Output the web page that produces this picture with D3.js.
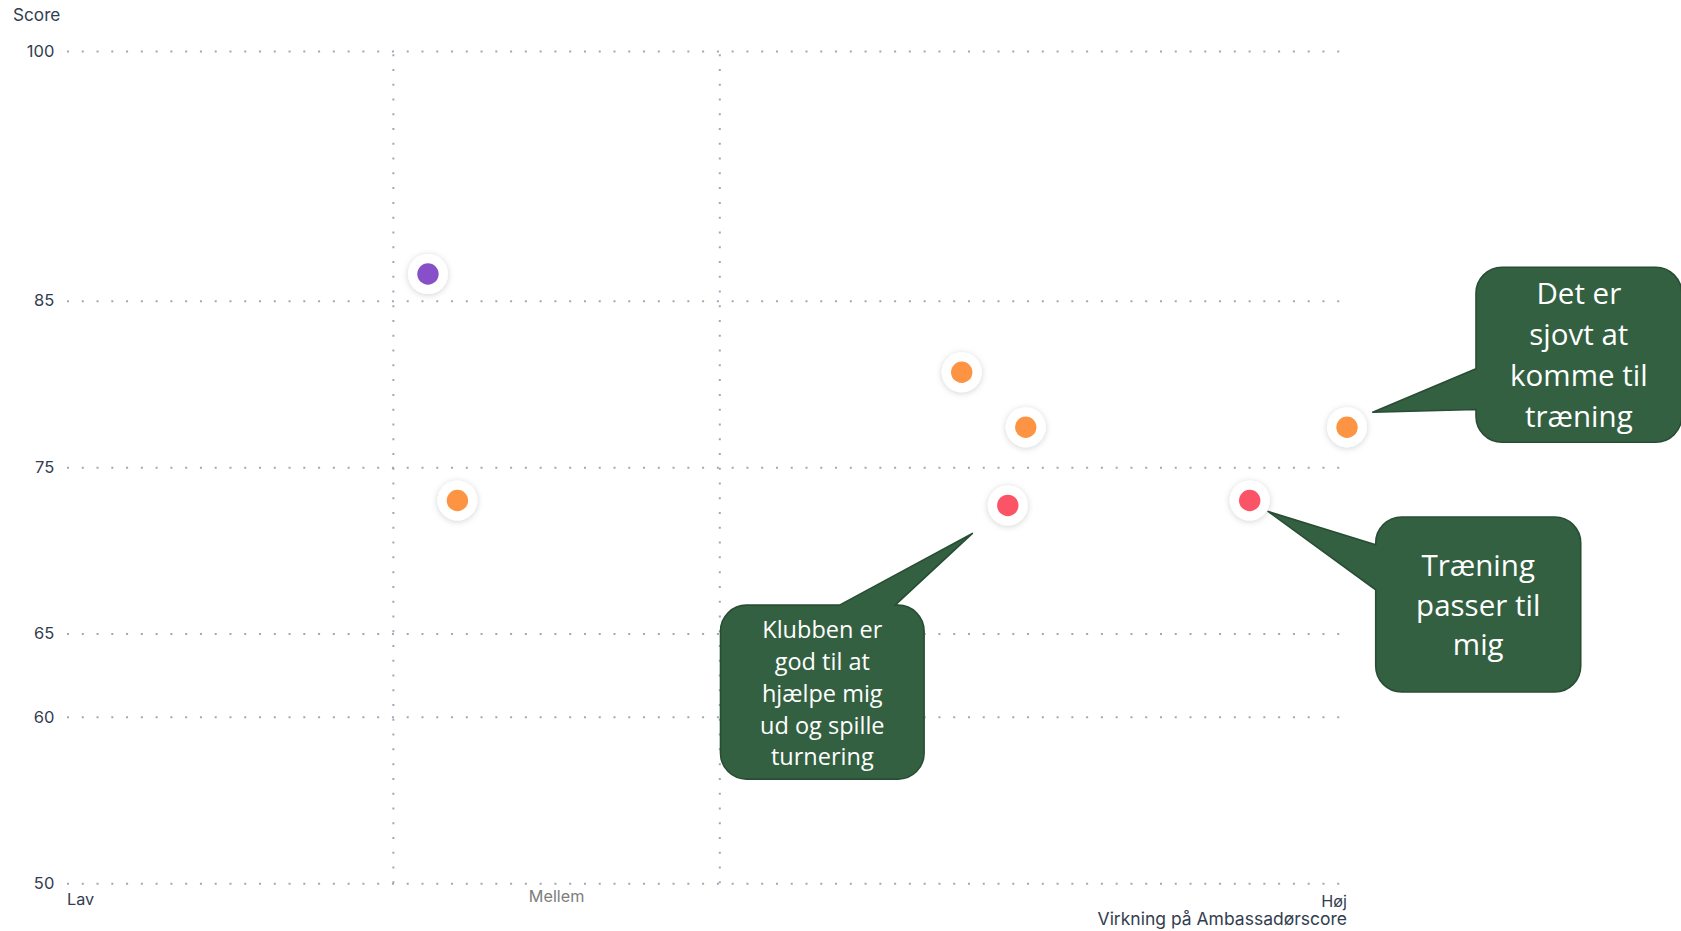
<!DOCTYPE html>
<html><head><meta charset="utf-8">
<script src="https://cdn.jsdelivr.net/npm/d3@7"></script>
<style>
html,body{margin:0;padding:0;background:#fff;overflow:hidden}
svg{display:block}
</style></head><body>
<svg id="chart" width="1681" height="931"></svg>
<script>
// ---------- data ----------
const yTicks = [100, 85, 75, 65, 60, 50];
const xLevelLabels = ["Lav", "Mellem", "Høj"];
const xDividers = [0.255, 0.51];           // impact thresholds (0 = lav, 1 = høj)
const yAxisTitle = "Score";
const xAxisTitle = "Virkning på Ambassadørscore";

const pointX     = [0.282, 0.305, 0.699, 0.749, 0.735, 0.924, 1.0];
const pointY     = [86.6, 73.0, 80.7, 77.4, 72.7, 73.0, 77.4];
const pointGroup = ["lilla", "orange", "orange", "orange", "rød", "rød", "orange"];

const groupNames  = ["lilla", "orange", "rød"];
const groupColors = ["#8750c9", "#fd9444", "#fb5467"];

const calloutTexts = [
  ["Klubben er", "god til at", "hjælpe mig", "ud og spille", "turnering"],
  ["Det er", "sjovt at", "komme til", "træning"],
  ["Træning", "passer til", "mig"]
];
const calloutTargets = [4, 6, 5];

// ---------- layout ----------
const W = 1681, H = 931;
const x = d3.scaleLinear().domain([0, 1]).range([67, 1347]);
const y = d3.scaleLinear().domain([50, 100]).range([883.3, 51]);
const color = d3.scaleOrdinal().domain(groupNames).range(groupColors);

// callout geometry relative to the target point (pixels)
const calloutLayout = [
  {tip:[-35.4, 28], box:[-287.3, 99.7, 203.6, 174], side:"top",  base:[-168.3, -112.7], first:32.7, step:31.9, size:23.5},
  {tip:[25.7, -15], box:[129, -160, 205.7, 175], side:"left", base:[-58.4, -17.7], first:36.8, step:41.1, size:29.5},
  {tip:[18.3, 11], box:[126, 16.6, 205, 175], side:"left", base:[44.3, 89.3], first:58.7, step:39.8, size:29.5}
];

const svg = d3.select("#chart");
const defs = svg.append("defs");
const f = defs.append("filter").attr("id", "halo").attr("x", "-50%").attr("y", "-50%").attr("width", "200%").attr("height", "200%");
f.append("feDropShadow").attr("dx", 0).attr("dy", 1).attr("stdDeviation", 3.4)
  .attr("flood-color", "#000").attr("flood-opacity", 0.18);

const gridColor = "#9ea8ba";
const dash = "2 12.77";
const font = "Inter, sans-serif";
const textDark = "#333d4f";

// horizontal grid + tick labels
const yAxis = d3.axisLeft(y).tickValues(yTicks).tickSize(-(x.range()[1] - x.range()[0])).tickPadding(13);
const gy = svg.append("g").attr("transform", `translate(${x.range()[0]},0)`).call(yAxis);
gy.select(".domain").remove();
gy.selectAll(".tick line").attr("stroke", gridColor).attr("stroke-width", 2).attr("stroke-dasharray", dash);
gy.selectAll(".tick text").attr("font-family", font).attr("font-size", 16.5)
  .attr("fill", textDark).attr("x", -12.7);

// vertical dividers
svg.append("g").selectAll("line").data(xDividers).join("line")
  .attr("x1", d => x(d)).attr("x2", d => x(d))
  .attr("y1", y(50)).attr("y2", y(100))
  .attr("stroke", gridColor).attr("stroke-width", 2).attr("stroke-dasharray", dash);

// axis titles and level labels
svg.append("text").text(yAxisTitle).attr("x", 13).attr("y", 20.8)
  .attr("font-family", font).attr("font-size", 17.2).attr("fill", textDark);

const levelPos = [x(0), (x(xDividers[0]) + x(xDividers[1])) / 2, x(1)];
const levelAnchor = ["start", "middle", "end"];
const levelDy = [22, 18.5, 23.3];
const levelFill = [textDark, "#7d7d7d", textDark];
svg.append("g").selectAll("text").data(xLevelLabels).join("text")
  .text(d => d)
  .attr("x", (d, i) => levelPos[i]).attr("y", (d, i) => y(50) + levelDy[i])
  .attr("text-anchor", (d, i) => levelAnchor[i])
  .attr("font-family", font).attr("font-size", 16.2).attr("fill", (d, i) => levelFill[i]);

svg.append("text").text(xAxisTitle).attr("x", x(1)).attr("y", y(50) + 41.7)
  .attr("text-anchor", "end")
  .attr("font-family", font).attr("font-size", 17.5).attr("fill", textDark);

// points
const pts = pointX.map((v, i) => ({x: v, y: pointY[i], g: pointGroup[i]}));
const pg = svg.append("g").selectAll("g").data(pts).join("g")
  .attr("transform", d => `translate(${x(d.x)},${y(d.y)})`);
pg.append("circle").attr("r", 20).attr("fill", "#fff").attr("filter", "url(#halo)");
pg.append("circle").attr("r", 10.7).attr("fill", d => color(d.g));

// callouts
function calloutPath(L, px, py) {
  const [bx, by, w, h] = L.box;
  const X = px + bx, Y = py + by, r = 26;
  const tx = px + L.tip[0], ty = py + L.tip[1];
  let p = "";
  if (L.side === "top") {
    const b1 = px + L.base[0], b2 = px + L.base[1];
    p = `M${X + r},${Y} L${b1},${Y} L${tx},${ty} L${b2},${Y} L${X + w - r},${Y}` +
        ` A${r},${r} 0 0 1 ${X + w},${Y + r} L${X + w},${Y + h - r}` +
        ` A${r},${r} 0 0 1 ${X + w - r},${Y + h} L${X + r},${Y + h}` +
        ` A${r},${r} 0 0 1 ${X},${Y + h - r} L${X},${Y + r}` +
        ` A${r},${r} 0 0 1 ${X + r},${Y} Z`;
  } else {
    const b1 = py + L.base[0], b2 = py + L.base[1];
    p = `M${X + r},${Y} L${X + w - r},${Y}` +
        ` A${r},${r} 0 0 1 ${X + w},${Y + r} L${X + w},${Y + h - r}` +
        ` A${r},${r} 0 0 1 ${X + w - r},${Y + h} L${X + r},${Y + h}` +
        ` A${r},${r} 0 0 1 ${X},${Y + h - r} L${X},${b2} L${tx},${ty} L${X},${b1} L${X},${Y + r}` +
        ` A${r},${r} 0 0 1 ${X + r},${Y} Z`;
  }
  return p;
}

const cg = svg.append("g");
calloutTexts.forEach((lines, i) => {
  const L = calloutLayout[i];
  const d = pts[calloutTargets[i]];
  const px = x(d.x), py = y(d.y);
  cg.append("path").attr("d", calloutPath(L, px, py))
    .attr("fill", "#346042").attr("stroke", "#284d33").attr("stroke-width", 1.6)
    .attr("stroke-linejoin", "round");
  const cx = px + L.box[0] + L.box[2] / 2;
  const top = py + L.box[1];
  cg.append("g").selectAll("text").data(lines).join("text")
    .text(t => t)
    .attr("x", cx).attr("y", (t, j) => top + L.first + j * L.step)
    .attr("text-anchor", "middle")
    .attr("font-family", "'Open Sans', sans-serif").attr("font-size", L.size)
    .attr("fill", "#ffffff");
});
</script>
</body></html>
